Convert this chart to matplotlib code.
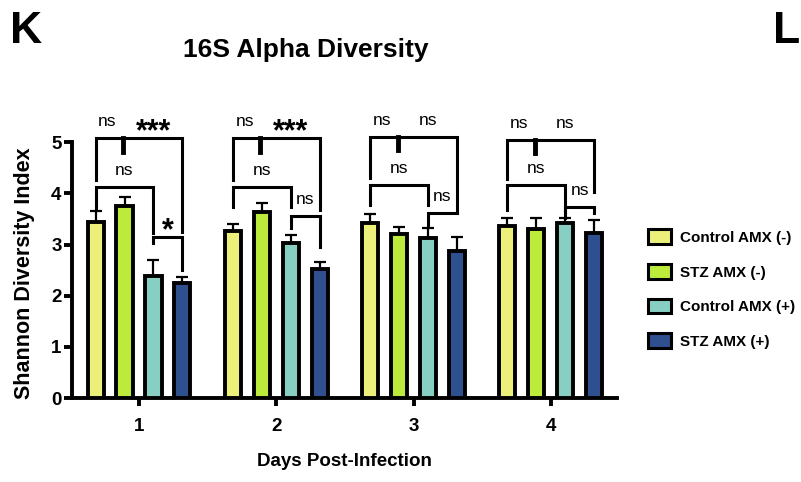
import numpy as np
import matplotlib
matplotlib.use("Agg")
import matplotlib.pyplot as plt
from matplotlib.patches import Patch

plt.rcParams["font.family"] = ["Liberation Sans", "DejaVu Sans"]

days = ["1", "2", "3", "4"]
groups = ["Control AMX (-)", "STZ AMX (-)", "Control AMX (+)", "STZ AMX (+)"]
colors = ["#ECF07A", "#BDEB3C", "#88CFC3", "#2F508E"]

# mean shannon index, one list per group (day 1..4)
ctrl_neg = [3.44, 3.26, 3.42, 3.36]
stz_neg = [3.75, 3.63, 3.20, 3.30]
ctrl_pos = [2.38, 3.03, 3.13, 3.42]
stz_pos = [2.25, 2.52, 2.87, 3.22]
means = [ctrl_neg, stz_neg, ctrl_pos, stz_pos]

# upper error (SEM)
ctrl_neg_err = [0.21, 0.14, 0.17, 0.16]
stz_neg_err = [0.18, 0.18, 0.14, 0.22]
ctrl_pos_err = [0.31, 0.15, 0.19, 0.10]
stz_pos_err = [0.11, 0.14, 0.27, 0.26]
errs = [ctrl_neg_err, stz_neg_err, ctrl_pos_err, stz_pos_err]

# significance brackets per day: (bar a, bar b, height, leg a bottom, leg b bottom)
sig_top = [(0, 3, 5.08, 4.26, 3.24), (0, 3, 5.08, 4.26, 3.67),
           (0, 3, 5.10, 4.30, 3.61), (0, 3, 5.04, 4.28, 4.02)]
sig_mid_tick = [4.80, 4.80, 4.84, 4.79]
sig_top_labels = [("ns", "***"), ("ns", "***"), ("ns", "ns"), ("ns", "ns")]
sig_second = [(0, 2, 4.12, 3.71, 3.22, "ns"), (0, 2, 4.12, 3.73, 3.73, "ns"),
              (0, 2, 4.16, 3.77, 3.77, "ns"), (0, 2, 4.16, 3.67, 3.52, "ns")]
sig_third = [(2, 3, 3.14, 3.03, 2.50, "*"), (2, 3, 3.55, 3.32, 2.95, "ns"),
             (2, 3, 3.61, 3.38, 3.61, "ns"), (2, 3, 3.73, 3.61, 3.61, "ns")]

fig = plt.figure(figsize=(8.01, 4.82), dpi=100)
ax = fig.add_axes([0.0899, 0.174, 0.680, 0.531])

x = np.arange(1, len(days) + 1)
off = 0.211
w = 0.117
pos = [x + (k - 1.5) * off for k in range(4)]

for k in range(4):
    ax.bar(pos[k], means[k], width=w, color=colors[k], edgecolor="black",
           linewidth=2.8, zorder=3, label=groups[k])
    ax.errorbar(pos[k], means[k], yerr=[np.zeros(4), errs[k]], fmt="none",
                ecolor="black", elinewidth=1.6, capsize=4, capthick=1.6, zorder=2)

blw = 2.2
def bracket(xa, xb, y, la, lb):
    ax.plot([xa, xa, xb, xb], [la, y, y, lb], color="black", lw=blw,
            clip_on=False, solid_joinstyle="miter", zorder=4)

def label(xc, y, lab):
    if lab.startswith("*"):
        ax.text(xc, y - 0.04, lab, ha="center", va="baseline", fontsize=22,
                fontweight="bold", clip_on=False)
    else:
        ax.text(xc, y + 0.24, lab, ha="center", va="baseline", fontsize=12.5,
                clip_on=False)

for d in range(4):
    px = [pos[k][d] for k in range(4)]
    a, b, y, la, lb = sig_top[d]
    bracket(px[a], px[b], y, la, lb)
    ax.plot([px[1] - 0.01, px[1] - 0.01], [y, sig_mid_tick[d]], color="black",
            lw=3.5, clip_on=False, zorder=4)
    l1, l2 = sig_top_labels[d]
    label((px[0] + px[1]) / 2 - 0.02, y, l1)
    label((px[1] + px[3]) / 2, y, l2)
    for a, b, y, la, lb, lab in (sig_second[d], sig_third[d]):
        bracket(px[a], px[b], y, la, lb)
        label((px[a] + px[b]) / 2, y, lab)

ax.set_xlim(0.512, 4.48)
ax.set_ylim(0, 5)
ax.set_xticks(x)
ax.set_xticklabels(days, fontsize=13.5, fontweight="bold")
ax.set_yticks(range(6))
ax.set_yticklabels([str(i) for i in range(6)], fontsize=13.5, fontweight="bold")
ax.tick_params(axis="both", width=2.8, length=5.5)
ax.tick_params(axis="x", pad=9)
ax.tick_params(axis="y", pad=2)
for s in ["top", "right"]:
    ax.spines[s].set_visible(False)
for s in ["left", "bottom"]:
    ax.spines[s].set_linewidth(2.8)
ax.set_xlabel("Days Post-Infection", fontsize=13.5, fontweight="bold", labelpad=13)
ax.set_ylabel("Shannon Diversity Index", fontsize=15.5, fontweight="bold")
ax.yaxis.set_label_coords(-0.068, 0.49)

fig.text(0.382, 0.896, "16S Alpha Diversity", ha="center", va="center",
         fontsize=19, fontweight="bold")
fig.text(0.013, 0.911, "K", ha="left", va="baseline", fontsize=32, fontweight="bold")
fig.text(0.965, 0.911, "L", ha="left", va="baseline", fontsize=32, fontweight="bold")

handles = [Patch(facecolor=colors[k], edgecolor="black", linewidth=2.2) for k in range(4)]
fig.legend(handles, groups, loc="center left", bbox_to_anchor=(0.792, 0.40),
           frameon=False, prop={"weight": "bold", "size": 11},
           handlelength=1.5, handleheight=1.1, labelspacing=1.25, handletextpad=0.6)

fig.savefig("out.png", dpi=100)
